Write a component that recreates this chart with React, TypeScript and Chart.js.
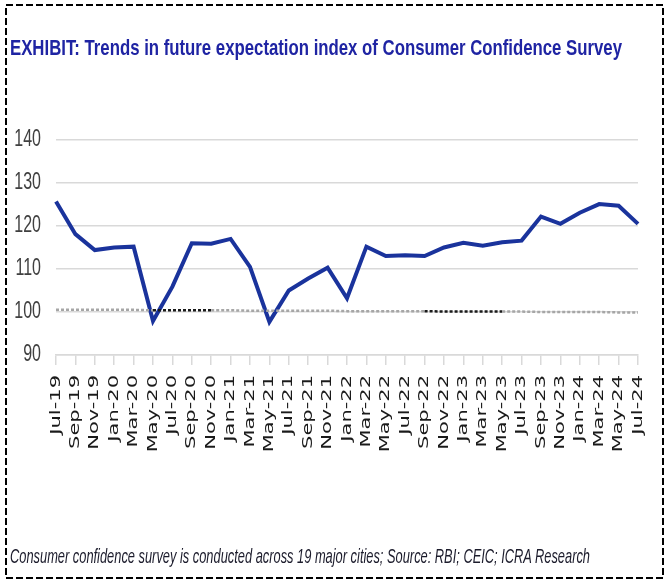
import React, { useEffect, useRef } from "react";
import { Chart, registerables } from "chart.js";

Chart.register(...registerables);

const CATEGORIES = [
  "Jul-19", "Sep-19", "Nov-19", "Jan-20", "Mar-20", "May-20", "Jul-20", "Sep-20",
  "Nov-20", "Jan-21", "Mar-21", "May-21", "Jul-21", "Sep-21", "Nov-21", "Jan-22",
  "Mar-22", "May-22", "Jul-22", "Sep-22", "Nov-22", "Jan-23", "Mar-23", "May-23",
  "Jul-23", "Sep-23", "Nov-23", "Jan-24", "Mar-24", "May-24", "Jul-24",
];

const FUTURE_EXPECTATION = [
  125.7, 118.1, 114.4, 115.0, 115.2, 97.9, 105.9, 116.0, 115.9, 117.0, 110.5,
  97.7, 105.0, 107.8, 110.3, 103.2, 115.2, 113.0, 113.2, 113.0, 115.0, 116.1,
  115.4, 116.2, 116.6, 122.2, 120.5, 123.1, 125.1, 124.7, 120.5,
];

const NEUTRAL_LEVEL = [
  100.5, 100.5, 100.5, 100.5, 100.5, 100.4, 100.4, 100.4, 100.4, 100.4, 100.3,
  100.3, 100.3, 100.3, 100.3, 100.2, 100.2, 100.2, 100.2, 100.2, 100.1, 100.1,
  100.1, 100.1, 100.1, 100.0, 100.0, 100.0, 100.0, 99.9, 99.9,
];

const Y_TICKS = [90, 100, 110, 120, 130, 140];

const TITLE = "EXHIBIT: Trends in future expectation index of Consumer Confidence Survey";
const FOOTER =
  "Consumer confidence survey is conducted across 19 major cities; Source: RBI; CEIC; ICRA Research";

const W = 667;
const H = 584;

const stretchedLabelsPlugin = {
  id: "stretchedLabels",
  afterDraw(chart: any) {
    const xs = chart.scales.x;
    const ys = chart.scales.y;
    const ctx = chart.ctx;
    ctx.save();
    // x-axis labels, rotated and stretched along the text
    ctx.font = "14px 'DejaVu Sans', sans-serif";
    ctx.fillStyle = "#1a1a1a";
    ctx.textAlign = "right";
    ctx.textBaseline = "middle";
    CATEGORIES.forEach((lab, i) => {
      const x = xs.getPixelForTick(i);
      ctx.save();
      ctx.translate(x, xs.top + 20);
      ctx.rotate(-Math.PI / 2);
      ctx.scale(1.5, 1);
      ctx.fillText(lab, 0, 0);
      ctx.restore();
    });
    // y-axis labels, stretched vertically
    ctx.font = "16px 'Liberation Sans', Arial, sans-serif";
    ctx.fillStyle = "#404040";
    ctx.textAlign = "right";
    ctx.textBaseline = "middle";
    Y_TICKS.forEach((v) => {
      const y = ys.getPixelForValue(v);
      ctx.save();
      ctx.translate(ys.right - 15, y);
      ctx.scale(1, 1.45);
      ctx.fillText(String(v), 0, 0);
      ctx.restore();
    });
    ctx.restore();
  },
};

function isBlackSegment(i: number) {
  return (i >= 5 && i <= 7) || (i >= 19 && i <= 22);
}

export default function App() {
  const ref = useRef<HTMLCanvasElement | null>(null);

  useEffect(() => {
    if (!ref.current) return;
    const chart = new Chart(ref.current, {
      type: "line",
      data: {
        labels: CATEGORIES,
        datasets: [
          {
            label: "Neutral",
            data: NEUTRAL_LEVEL,
            borderColor: "#a6a6a6",
            borderWidth: 2.5,
            borderDash: [3, 2],
            pointRadius: 0,
            fill: false,
            segment: {
              borderColor: (c: any) => (isBlackSegment(c.p0DataIndex) ? "#1a1a1a" : "#a6a6a6"),
            },
          },
          {
            label: "Future expectation index",
            data: FUTURE_EXPECTATION,
            borderColor: "#1a339c",
            borderWidth: 4,
            pointRadius: 0,
            tension: 0,
            fill: false,
          },
        ],
      },
      options: {
        animation: false,
        responsive: false,
        maintainAspectRatio: false,
        layout: { padding: { top: 140, right: 29, left: 0, bottom: 0 } },
        plugins: {
          legend: { display: false },
          tooltip: { enabled: false },
          title: { display: false },
        },
        scales: {
          x: {
            type: "category",
            offset: false,
            grid: {
              drawOnChartArea: false,
              drawTicks: true,
              tickLength: 10,
              color: "#d9d9d9",
              lineWidth: 1.5,
            },
            border: { display: true, color: "#d9d9d9", width: 1.5 },
            ticks: { display: false, autoSkip: false },
            afterFit: (s: any) => {
              s.height = H - 355;
            },
          },
          y: {
            min: 90,
            max: 140,
            afterBuildTicks: (s: any) => {
              s.ticks = Y_TICKS.map((v) => ({ value: v }));
            },
            grid: { drawTicks: false, color: "#d9d9d9", lineWidth: 1.5 },
            border: { display: false },
            ticks: { display: false },
            afterFit: (s: any) => {
              s.width = 56;
            },
          },
        },
      },
      plugins: [stretchedLabelsPlugin],
    });
    return () => chart.destroy();
  }, []);

  return (
    <div style={{ position: "fixed", left: 0, top: 0, width: W, height: H, background: "#fff" }}>
      <canvas ref={ref} width={W} height={H} style={{ position: "absolute", left: 0, top: 0, width: W, height: H }} />
      <svg
        width={W}
        height={H}
        style={{ position: "absolute", left: 0, top: 0, pointerEvents: "none" }}
      >
        <rect x={6} y={5} width={657} height={573} fill="none" stroke="#000" strokeWidth={2} strokeDasharray="7 3" />
        <text
          x={0}
          y={0}
          transform="translate(10,55) scale(1,1.08)"
          textLength={612}
          lengthAdjust="spacingAndGlyphs"
          fill="#1f24a3"
          fontWeight="bold"
          fontSize={21}
          fontFamily="'Liberation Sans', Arial, sans-serif"
        >
          {TITLE}
        </text>
        <text
          x={0}
          y={0}
          transform="translate(10,563) scale(1,1.2)"
          textLength={580}
          lengthAdjust="spacingAndGlyphs"
          fill="#1c1c2c"
          fontStyle="italic"
          fontSize={17}
          fontFamily="'Liberation Sans', Arial, sans-serif"
        >
          {FOOTER}
        </text>
      </svg>
    </div>
  );
}
